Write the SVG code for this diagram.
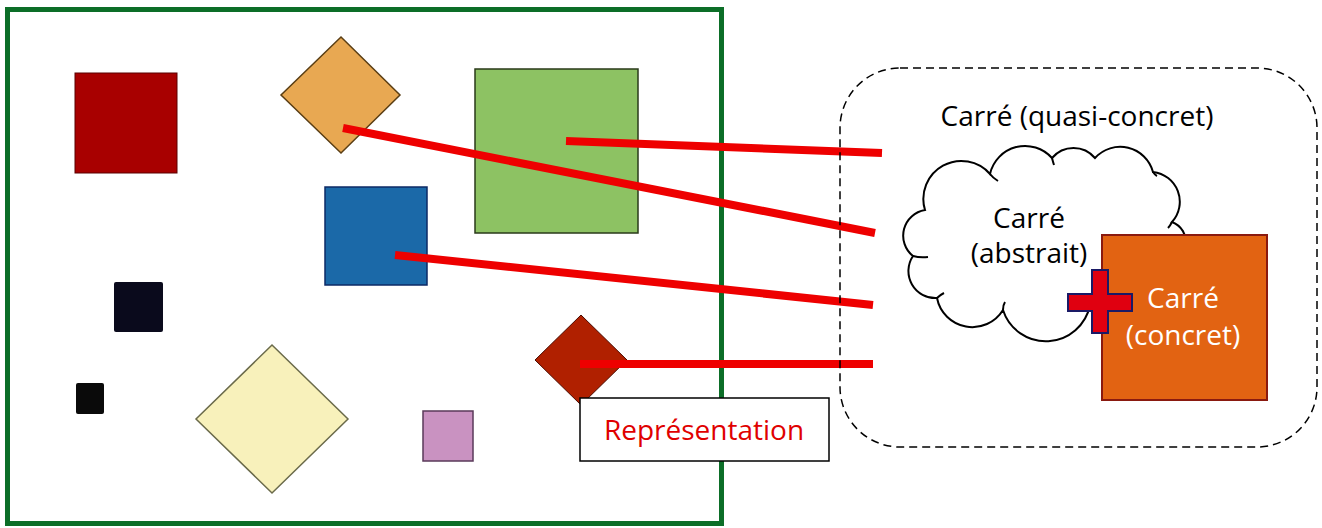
<svg xmlns="http://www.w3.org/2000/svg" width="1322" height="528" viewBox="0 0 1322 528">
<style>
.lbl{font-family:"Open Sans","Noto Sans","Liberation Sans",sans-serif;font-size:28px;text-anchor:middle}
.con{stroke:#ee0000;stroke-width:8;fill:none;stroke-linecap:butt}
.tail{fill:none;stroke:#000;stroke-width:2}
</style>
<rect width="1322" height="528" fill="#ffffff"/>
<g id="frame">
<rect x="7.5" y="9.5" width="714" height="514" fill="#ffffff" stroke="#0c6e28" stroke-width="5"/>
</g>
<g id="red-square"><rect x="75" y="73" width="102" height="100" fill="#a80000" stroke="#5a0000" stroke-width="1"/></g>
<g id="orange-diamond"><polygon points="341,37 400,95 341,153 281,95" fill="#e8a852" stroke="#5a3e14" stroke-width="1.5"/></g>
<g id="green-square"><rect x="475" y="69" width="163" height="164" fill="#8dc263" stroke="#2a3a1a" stroke-width="1.5"/></g>
<g id="blue-square"><rect x="325" y="187" width="102" height="98" fill="#1b69a8" stroke="#0c2a66" stroke-width="1.5"/></g>
<g id="black-square"><rect x="114" y="282" width="49" height="50" fill="#0a0a1c" rx="2"/></g>
<g id="small-black-square"><rect x="76" y="383" width="28" height="31" fill="#0a0a0a" rx="2"/></g>
<g id="yellow-diamond"><polygon points="272,345 348,419 272,493 196,419" fill="#f8f1bb" stroke="#6a6a4a" stroke-width="1.5"/></g>
<g id="pink-square"><rect x="423" y="411" width="50" height="50" fill="#c992c1" stroke="#5a3a5a" stroke-width="1.5"/></g>
<g id="darkred-diamond"><polygon points="581,315 627,360 581,405 535,360" fill="#b02000" stroke="#4a0a00" stroke-width="1"/></g>
<g id="representation">
<rect x="580" y="398" width="249" height="63" fill="#ffffff" stroke="#000" stroke-width="1.5"/>
<text class="lbl" x="704" y="440" fill="#e00000" font-size="29">Représentation</text>
</g>
<g id="connectors">
<line class="con" x1="566" y1="141" x2="882" y2="153"/>
<line class="con" x1="343" y1="128" x2="875" y2="233"/>
<line class="con" x1="395" y1="255" x2="873" y2="305"/>
<line class="con" x1="580" y1="364" x2="873" y2="364"/>
</g>
<g id="quasi-concret">
<rect x="840" y="68" width="477" height="379" rx="60" ry="60" fill="none" stroke="#000" stroke-width="1.5" stroke-dasharray="8 5"/>
<text class="lbl" x="1077" y="126" fill="#000" font-size="29">Carré (quasi-concret)</text>
</g>
<g id="abstrait">
<path d="M925,210 A38,38 0 0 1 990,174 A36,36 0 0 1 1052,158 A28,28 0 0 1 1095,158 A34,34 0 0 1 1153,172 A30,30 0 0 1 1172,222 A22,22 0 0 1 1186,245 L1150,300 L1090,305 A45,45 0 0 1 1003,310 A36,36 0 0 1 937,298 A27,27 0 0 1 913,256 A26,26 0 0 1 925,210 Z" fill="#ffffff" stroke="#000" stroke-width="2"/>
<path class="tail" d="M990,174 Q993,178 998,181"/>
<path class="tail" d="M1052,158 Q1053,162 1054,165"/>
<path class="tail" d="M1153,172 Q1155,175 1157,176"/>
<path class="tail" d="M1172,222 Q1170,226 1168,228"/>
<path class="tail" d="M913,256 Q920,258 928,257"/>
<path class="tail" d="M937,298 Q940,295 944,293"/>
<path class="tail" d="M1003,310 Q1003,305 1005,302"/>
<text class="lbl" x="1029" y="228" fill="#000">Carré</text>
<text class="lbl" x="1029" y="263" fill="#000">(abstrait)</text>
</g>
<g id="concret">
<rect x="1102" y="235" width="165" height="165" fill="#e26312" stroke="#8a1a10" stroke-width="2"/>
<text class="lbl" x="1183" y="308" fill="#ffffff">Carré</text>
<text class="lbl" x="1183" y="345" fill="#ffffff">(concret)</text>
</g>
<g id="plus">
<polygon points="1092,270 1108,270 1108,294 1132,294 1132,311 1108,311 1108,333 1092,333 1092,311 1068,311 1068,294 1092,294" fill="#e00010" stroke="#1a1a66" stroke-width="2"/>
</g>
</svg>
